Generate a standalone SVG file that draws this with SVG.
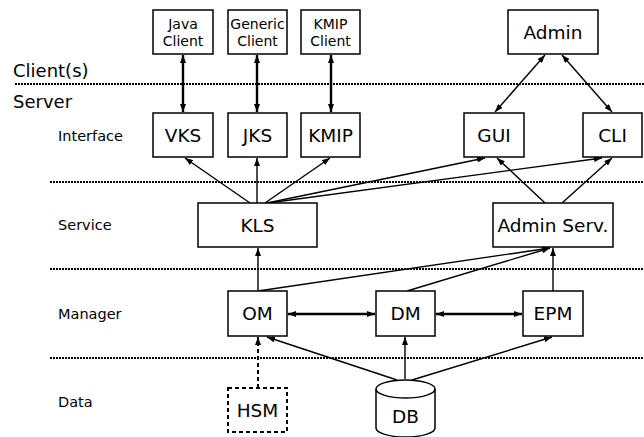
<svg xmlns="http://www.w3.org/2000/svg" width="644" height="437" viewBox="0 0 644 437">
<style>
text{font-family:"DejaVu Sans","Liberation Sans",sans-serif;fill:#000}
.box{fill:#fff;stroke:#000;stroke-width:1.5}
.n{font-size:18.5px;text-anchor:middle}
.c{font-size:14px;text-anchor:middle}
.lab{font-size:14.5px}
.big{font-size:18px}
.sep{stroke:#000;stroke-width:2;stroke-dasharray:2,1;fill:none}
.e{stroke:#000;stroke-width:1.4;fill:none;marker-end:url(#ah)}
.d{stroke:#000;stroke-width:1.4;fill:none;marker-end:url(#ah);marker-start:url(#ah)}
.t{stroke:#000;stroke-width:2.4;fill:none;marker-end:url(#ah);marker-start:url(#ah)}
</style>
<defs>
<marker id="ah" markerUnits="userSpaceOnUse" markerWidth="8" markerHeight="6" refX="8" refY="3" orient="auto-start-reverse">
<path d="M0,0 L8,3 L0,6 z" fill="#000"/>
</marker>
</defs>
<rect width="644" height="437" fill="#fff"/>
<g id="layers">
<line class="sep" x1="15" y1="84" x2="644" y2="84"/>
<line class="sep" x1="50" y1="182" x2="644" y2="182"/>
<line class="sep" x1="50" y1="269" x2="644" y2="269"/>
<line class="sep" x1="50" y1="358" x2="644" y2="358"/>
<text class="big" x="13" y="77">Client(s)</text>
<text class="big" x="13" y="108">Server</text>
<text class="lab" x="58" y="141">Interface</text>
<text class="lab" x="58" y="230">Service</text>
<text class="lab" x="58" y="319">Manager</text>
<text class="lab" x="58" y="407">Data</text>
</g>
<g id="connectors">
<line class="t" x1="183" y1="55" x2="183" y2="112"/>
<line class="t" x1="257" y1="55" x2="257" y2="112"/>
<line class="t" x1="331" y1="55" x2="331" y2="112"/>
<line class="d" x1="545" y1="55" x2="495" y2="112"/>
<line class="d" x1="562" y1="55" x2="612" y2="112"/>
<line class="e" x1="250" y1="203" x2="185" y2="158"/>
<line class="e" x1="257" y1="203" x2="257" y2="158"/>
<line class="e" x1="265" y1="203" x2="330" y2="158"/>
<line class="e" x1="267" y1="203" x2="485" y2="158"/>
<line class="e" x1="268" y1="203" x2="602" y2="158"/>
<line class="e" x1="545" y1="203" x2="497" y2="158"/>
<line class="e" x1="562" y1="203" x2="612" y2="158"/>
<line class="e" x1="258" y1="291" x2="258" y2="248"/>
<line class="e" x1="258" y1="291" x2="550" y2="248"/>
<line class="e" x1="407" y1="291" x2="550" y2="248"/>
<line class="e" x1="553" y1="291" x2="553" y2="248"/>
<line class="t" x1="288" y1="314" x2="375" y2="314"/>
<line class="t" x1="436" y1="314" x2="522" y2="314"/>
<line class="e" x1="405" y1="379" x2="405" y2="337"/>
<line class="e" x1="397" y1="380" x2="267" y2="337"/>
<line class="e" x1="412" y1="380" x2="552" y2="337"/>
<line x1="258" y1="388" x2="258" y2="337" stroke="#000" stroke-width="2" stroke-dasharray="4,3" marker-end="url(#ah)"/>
</g>
<g id="java-client"><rect class="box" x="153" y="10" width="60" height="44"/><text class="c" x="183" y="29">Java</text><text class="c" x="183" y="46">Client</text></g>
<g id="generic-client"><rect class="box" x="228" y="10" width="59" height="44"/><text class="c" x="257.5" y="29">Generic</text><text class="c" x="257.5" y="46">Client</text></g>
<g id="kmip-client"><rect class="box" x="301" y="10" width="59" height="44"/><text class="c" x="330.5" y="29">KMIP</text><text class="c" x="330.5" y="46">Client</text></g>
<g id="admin"><rect class="box" x="508" y="10" width="90" height="44"/><text class="n" x="553" y="38.5">Admin</text></g>
<g id="vks"><rect class="box" x="153" y="113" width="60" height="44"/><text class="n" x="183" y="141.5">VKS</text></g>
<g id="jks"><rect class="box" x="228" y="113" width="59" height="44"/><text class="n" x="257.5" y="141.5">JKS</text></g>
<g id="kmip"><rect class="box" x="301" y="113" width="59" height="44"/><text class="n" x="330.5" y="141.5">KMIP</text></g>
<g id="gui"><rect class="box" x="464" y="113" width="60" height="44"/><text class="n" x="494" y="141.5">GUI</text></g>
<g id="cli"><rect class="box" x="583" y="113" width="59" height="44"/><text class="n" x="612.5" y="141.5">CLI</text></g>
<g id="kls"><rect class="box" x="198" y="203" width="119" height="44"/><text class="n" x="257.5" y="231.5">KLS</text></g>
<g id="admin-serv"><rect class="box" x="493" y="203" width="120" height="44"/><text class="n" x="553" y="231.5">Admin Serv.</text></g>
<g id="om"><rect class="box" x="228" y="291" width="59" height="45"/><text class="n" x="257.5" y="320">OM</text></g>
<g id="dm"><rect class="box" x="376" y="291" width="59" height="45"/><text class="n" x="405.5" y="320">DM</text></g>
<g id="epm"><rect class="box" x="523" y="291" width="60" height="45"/><text class="n" x="553" y="320">EPM</text></g>
<g id="hsm"><rect x="228" y="388" width="59" height="44" fill="#fff" stroke="#000" stroke-width="2" stroke-dasharray="4,3"/><text class="n" x="257.5" y="416.5">HSM</text></g>
<g id="db">
<path d="M376,389 L376,428 A29.5,9 0 0 0 435,428 L435,389 A29.5,9 0 0 0 376,389 Z" fill="#fff" stroke="#000" stroke-width="1.5"/>
<path d="M376,389 A29.5,9 0 0 0 435,389" fill="none" stroke="#000" stroke-width="1.5"/>
<text class="n" x="405.5" y="423">DB</text>
</g>
</svg>
